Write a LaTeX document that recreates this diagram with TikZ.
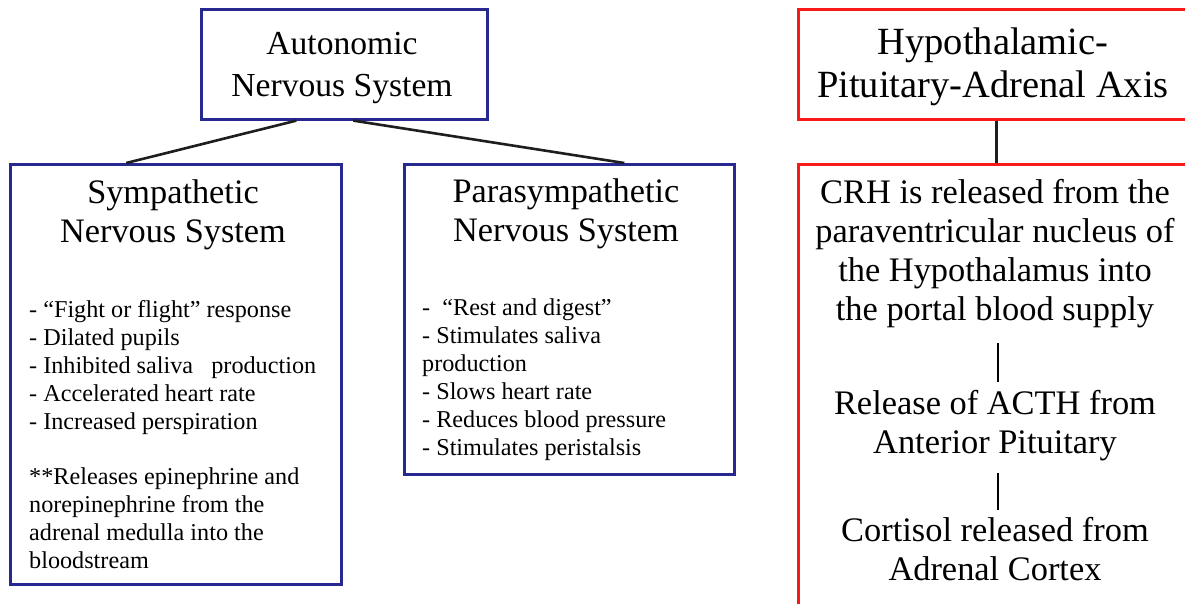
\documentclass[tikz,border=0pt]{standalone}
\usepackage{fontspec}
\setmainfont{Liberation Serif}[Ligatures=TeX]
\newfontfamily\timesx{Liberation Serif}
\definecolor{navy}{RGB}{40,40,145}
\definecolor{hred}{RGB}{250,25,25}
\definecolor{conn}{RGB}{30,30,30}
\begin{document}
\begin{tikzpicture}[x=1pt,y=-1pt,
  bluebox/.style={draw=navy,line width=2.6pt,anchor=north west,inner sep=0pt},
  redbox/.style={draw=hred,line width=2.6pt,anchor=north west,inner sep=0pt},
  titletext/.style={anchor=base,align=center,inner sep=0pt,font=\timesx\fontsize{34.3}{39}\selectfont},
  listtext/.style={anchor=base west,align=left,inner sep=0pt,font=\timesx\fontsize{24.2}{28}\selectfont},
  hpatext/.style={anchor=base,align=center,inner sep=0pt,font=\timesx\fontsize{34.4}{39}\selectfont},
  link/.style={draw=conn,line width=2.6pt},
  barline/.style={draw=black,line width=1.8pt}]
\useasboundingbox (0,0) rectangle (1185,603);
\fill[white] (0,0) rectangle (1185,603);
\clip (0,0) rectangle (1185,603);

% boxes
\node[bluebox,minimum width=286,minimum height=110] (ans) at (200,8) {};
\node[bluebox,minimum width=331,minimum height=420] (symp) at (9,163) {};
\node[bluebox,minimum width=330,minimum height=310] (para) at (403,163) {};
\node[redbox,minimum width=396,minimum height=110] (hpa) at (797,8) {};
\node[redbox,minimum width=396,minimum height=480] (hpalow) at (797,163) {};

% titles (anchor = baseline of last line)
\node[titletext,font=\timesx\fontsize{33.6}{42}\selectfont] (ansT) at (342,96) {Autonomic\\Nervous System};
\node[titletext] (sympT) at (173,242) {Sympathetic\\Nervous System};
\node[titletext] (paraT) at (566,241) {Parasympathetic\\Nervous System};
\node[titletext,font=\timesx\fontsize{38.5}{43}\selectfont] (hpaT) at (993,97) {Hypothalamic-\\Pituitary-Adrenal Axis};

% lists
\node[listtext] (sympL) at (29,568) {- “Fight or flight” response\\
- Dilated pupils\\
- Inhibited saliva\ \ \ production\\
- Accelerated heart rate\\
- Increased perspiration\\[27pt]
**Releases epinephrine and\\
norepinephrine from the\\
adrenal medulla into the\\
bloodstream};
\node[listtext] (paraL) at (422,455) {-\ \ “Rest and digest”\\
- Stimulates saliva\\
production\\
- Slows heart rate\\
- Reduces blood pressure\\
- Stimulates peristalsis};

% HPA chain
\node[hpatext] (crh) at (995,320) {CRH is released from the\\paraventricular nucleus of\\the Hypothalamus into\\the portal blood supply};
\node[hpatext] (acth) at (995,453) {Release of ACTH from\\Anterior Pituitary};
\node[hpatext] (cort) at (995,580) {Cortisol released from\\Adrenal Cortex};
\coordinate (b1a) at (998,343);
\coordinate (b1b) at (998,382);
\coordinate (b2a) at (998,473);
\coordinate (b2b) at (998,510);
\draw[barline] (b1a) -- (b1b);
\draw[barline] (b2a) -- (b2b);

% connectors
\draw[link] ([xshift=-48]ans.south) -- ([xshift=-49.5]symp.north);
\draw[link] ([xshift=9]ans.south) -- ([xshift=55]para.north);
\draw[link] (hpa.south) -- (hpalow.north);
\end{tikzpicture}
\end{document}
